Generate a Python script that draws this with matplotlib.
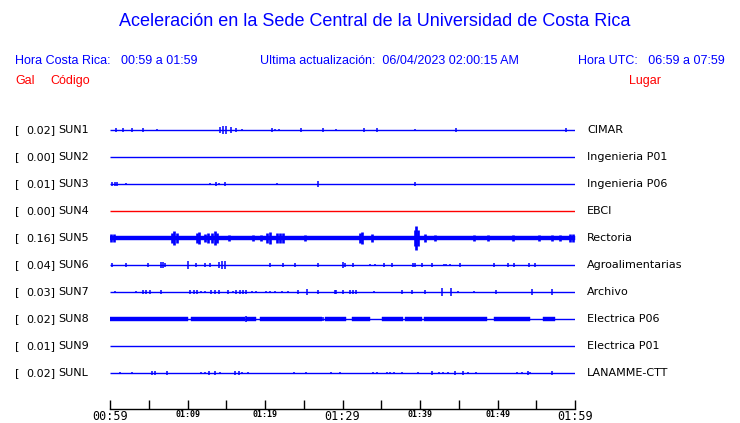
import matplotlib
matplotlib.use('Agg')
import matplotlib.pyplot as plt

# estaciones (filas de arriba hacia abajo)
codes = ['SUN1', 'SUN2', 'SUN3', 'SUN4', 'SUN5', 'SUN6', 'SUN7', 'SUN8', 'SUN9', 'SUNL']
places = ['CIMAR', 'Ingenieria P01', 'Ingenieria P06', 'EBCI', 'Rectoria',
          'Agroalimentarias', 'Archivo', 'Electrica P06', 'Electrica P01', 'LANAMME-CTT']
peak_gal = [0.02, 0.00, 0.01, 0.00, 0.16, 0.04, 0.03, 0.02, 0.01, 0.02]
trace_colors = ['blue', 'blue', 'blue', 'red', 'blue', 'blue', 'blue', 'blue', 'blue', 'blue']

# minutos desde 00:59, media amplitud en fracciones de fila
spikes = {
    'SUN1': [(0.8, 0.07), (1.7, 0.07), (2.8, 0.08), (4.3, 0.07), (6.0, 0.05), (14.2, 0.1),
             (14.6, 0.15), (15.0, 0.15), (15.6, 0.12), (16.3, 0.07), (17.0, 0.05), (20.9, 0.07),
             (21.3, 0.05), (21.8, 0.04), (24.6, 0.07), (27.5, 0.07), (29.2, 0.05), (32.8, 0.07),
             (34.4, 0.07), (39.4, 0.05), (44.7, 0.07), (58.9, 0.07)],
    'SUN2': [],
    'SUN3': [(0.2, 0.07), (0.6, 0.08), (0.95, 0.08), (2.0, 0.05), (12.9, 0.05), (13.7, 0.07),
             (14.1, 0.05), (14.9, 0.07), (21.6, 0.05), (26.9, 0.1), (39.4, 0.07)],
    'SUN4': [],
    'SUN5': [(0.1, 0.13), (0.5, 0.13), (8.0, 0.2), (8.3, 0.26), (8.6, 0.18), (11.2, 0.18),
             (11.5, 0.22), (12.3, 0.16), (12.6, 0.19), (13.2, 0.2), (13.5, 0.26), (13.8, 0.18),
             (15.3, 0.12), (18.5, 0.11), (19.5, 0.12), (20.3, 0.18), (20.6, 0.22), (21.6, 0.2),
             (21.9, 0.2), (22.3, 0.18), (25.2, 0.11), (32.3, 0.2), (32.5, 0.22), (33.8, 0.14),
             (39.3, 0.3), (39.5, 0.44), (39.7, 0.28), (40.6, 0.15), (41.9, 0.11), (47.0, 0.1),
             (48.8, 0.1), (52.0, 0.1), (55.4, 0.1), (57.0, 0.11), (58.0, 0.1), (59.3, 0.13),
             (59.7, 0.13)],
    'SUN6': [(0.2, 0.07), (2.1, 0.07), (4.9, 0.07), (6.6, 0.1), (6.9, 0.11), (7.1, 0.09),
             (10.1, 0.15), (11.05, 0.07), (12.2, 0.07), (12.9, 0.07), (14.1, 0.11), (14.4, 0.16),
             (14.8, 0.13), (20.7, 0.07), (22.3, 0.07), (23.9, 0.07), (26.9, 0.07), (30.0, 0.1),
             (30.3, 0.09), (31.3, 0.08), (33.5, 0.05), (34.2, 0.05), (35.3, 0.08), (36.4, 0.08),
             (39.1, 0.08), (39.3, 0.08), (40.2, 0.08), (41.6, 0.08), (43.1, 0.05), (43.4, 0.04),
             (43.9, 0.04), (45.2, 0.08), (49.5, 0.07), (51.3, 0.07), (52.1, 0.07), (54.0, 0.07),
             (54.8, 0.07)],
    'SUN7': [(0.65, 0.05), (3.3, 0.05), (4.3, 0.07), (4.7, 0.07), (5.2, 0.07), (6.6, 0.07),
             (10.3, 0.07), (10.8, 0.07), (11.2, 0.07), (11.7, 0.05), (12.2, 0.05), (13.0, 0.07),
             (13.5, 0.07), (14.0, 0.07), (15.2, 0.07), (15.9, 0.05), (16.3, 0.07), (16.8, 0.07),
             (17.2, 0.07), (17.6, 0.07), (18.3, 0.05), (18.9, 0.04), (20.1, 0.04), (20.6, 0.04),
             (21.3, 0.04), (22.2, 0.04), (23.0, 0.04), (24.2, 0.07), (25.4, 0.11), (26.8, 0.07),
             (29.0, 0.07), (29.2, 0.07), (30.1, 0.07), (31.0, 0.07), (31.4, 0.07), (31.8, 0.07),
             (34.1, 0.05), (37.7, 0.07), (39.0, 0.07), (40.6, 0.07), (42.9, 0.13), (44.0, 0.13),
             (44.9, 0.05), (47.0, 0.04), (49.8, 0.08), (54.4, 0.1), (57.0, 0.1)],
    'SUN8': [(17.5, 0.1), (27.5, 0.07), (36.0, 0.07), (45.0, 0.07)],
    'SUN9': [],
    'SUNL': [(1.3, 0.05), (2.8, 0.04), (5.4, 0.07), (5.8, 0.07), (7.3, 0.07), (11.8, 0.05),
             (12.3, 0.05), (12.8, 0.07), (13.5, 0.07), (14.2, 0.05), (16.1, 0.07), (16.6, 0.07),
             (17.0, 0.04), (17.8, 0.04), (23.7, 0.04), (25.3, 0.04), (28.5, 0.05), (29.7, 0.05),
             (33.9, 0.05), (34.4, 0.05), (35.7, 0.05), (36.1, 0.05), (36.6, 0.05), (37.7, 0.04),
             (39.8, 0.04), (41.5, 0.07), (42.5, 0.04), (43.0, 0.04), (43.6, 0.05), (44.5, 0.07),
             (45.6, 0.07), (46.2, 0.05), (47.2, 0.05), (52.5, 0.05), (53.1, 0.05), (53.9, 0.07),
             (54.2, 0.05), (57.0, 0.07)],
}

# tramos con ruido continuo (inicio, fin, media amplitud)
noise_bands = {
    'SUN5': [(0.0, 60.0, 0.09)],
    'SUN8': [(0.0, 10.1, 0.06), (10.4, 17.4, 0.06), (17.6, 18.9, 0.06), (19.4, 27.3, 0.06),
             (27.7, 30.5, 0.06), (31.2, 33.5, 0.06), (35.1, 37.8, 0.06), (38.1, 40.2, 0.06),
             (40.5, 48.6, 0.06), (49.5, 54.2, 0.06), (55.9, 57.4, 0.06)],
}

tick_minutes = list(range(0, 61, 5))
tick_labels = ['00:59', '', '01:09', '', '01:19', '', '01:29', '', '01:39', '', '01:49', '', '01:59']
big_labels = ['00:59', '01:29', '01:59']

W, H = 740, 423
fig = plt.figure(figsize=(W / 100, H / 100), dpi=100)
fig.patch.set_facecolor('white')


def fx(px):
    return px / W


def fy(py):
    return 1 - py / H


ax = fig.add_axes([fx(110), fy(409), 465 / W, (409 - 116) / H])
ax.set_xlim(0, 60)
ax.set_ylim(9 + 36 / 27, -14 / 27)

for i, code in enumerate(codes):
    c = trace_colors[i]
    ax.plot([0, 60], [i, i], color=c, lw=1.0, solid_capstyle='butt')
    for (t0, t1, a) in noise_bands.get(code, []):
        ax.fill_between([t0, t1], i - a, i + a, color=c, lw=0.3)
    ev = spikes[code]
    if ev:
        ax.vlines([e[0] for e in ev], [i - e[1] for e in ev], [i + e[1] for e in ev],
                  color=c, lw=1.9 if code == 'SUN5' else 1.1)

for s in ['top', 'left', 'right']:
    ax.spines[s].set_visible(False)
ax.spines['bottom'].set_linewidth(1.0)
ax.set_yticks([])
ax.set_xticks(tick_minutes)
ax.set_xticklabels(tick_labels)
ax.tick_params(axis='x', direction='in', length=6.5, width=1.0, pad=0.5)
for lab in ax.get_xticklabels():
    lab.set_family('DejaVu Sans Mono')
    if lab.get_text() in big_labels:
        lab.set_fontsize(8.5)
    else:
        lab.set_fontsize(6)
        lab.set_fontweight('bold')

# etiquetas a los lados
for i, code in enumerate(codes):
    ypix = 130 + 27 * i
    fig.text(fx(15), fy(ypix), '[', fontsize=8, va='center', ha='left')
    fig.text(fx(55), fy(ypix), '%.2f]' % peak_gal[i], fontsize=8, va='center', ha='right')
    fig.text(fx(58), fy(ypix), code, fontsize=8, va='center', ha='left')
    fig.text(fx(587), fy(ypix), places[i], fontsize=8, va='center', ha='left')

hfont = 'Liberation Sans'
fig.text(fx(375), fy(21), 'Aceleración en la Sede Central de la Universidad de Costa Rica',
         fontsize=13, color='blue', ha='center', va='center', family=hfont)
fig.text(fx(15), fy(61), 'Hora Costa Rica:   00:59 a 01:59', fontsize=9, color='blue',
         ha='left', va='center', family=hfont)
fig.text(fx(260), fy(61), 'Ultima actualización:  06/04/2023 02:00:15 AM', fontsize=9,
         color='blue', ha='left', va='center', family=hfont)
fig.text(fx(725), fy(61), 'Hora UTC:   06:59 a 07:59', fontsize=9, color='blue',
         ha='right', va='center', family=hfont)
fig.text(fx(15), fy(81), 'Gal', fontsize=9, color='red', ha='left', va='center', family=hfont)
fig.text(fx(50), fy(81), 'Código', fontsize=9, color='red', ha='left', va='center', family=hfont)
fig.text(fx(629), fy(81), 'Lugar', fontsize=9, color='red', ha='left', va='center', family=hfont)

fig.savefig('out.png', dpi=100)
